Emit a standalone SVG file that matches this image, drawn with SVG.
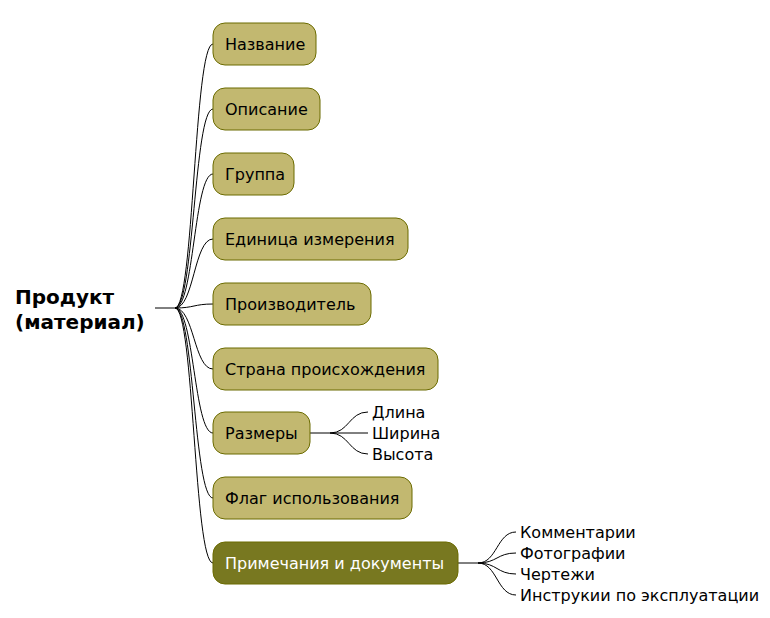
<svg xmlns="http://www.w3.org/2000/svg" width="770" height="618" viewBox="0 0 770 618">
<style>
.n{fill:#c2b870;stroke:#6b6b00;stroke-width:1}
.d{fill:#787820;stroke:#6b6b00;stroke-width:1}
text{font-family:"DejaVu Sans",sans-serif;font-size:16px;fill:#000}
.w{fill:#fff}
.r{font-size:20px;font-weight:bold}
.l{font-size:16px}
#c path{fill:none;stroke:#000;stroke-width:1}
</style>
<rect width="770" height="618" fill="#fff"/>
<g id="c">
<path d="M155 308H175"/>
<path d="M175 308C194 308 194 44 213 44"/>
<path d="M175 308C194 308 194 109 213 109"/>
<path d="M175 308C194 308 194 174 213 174"/>
<path d="M175 308C194 308 194 239 213 239"/>
<path d="M175 308C194 308 194 304 213 304"/>
<path d="M175 308C194 308 194 369 213 369"/>
<path d="M175 308C194 308 194 433 213 433"/>
<path d="M175 308C194 308 194 498 213 498"/>
<path d="M175 308C194 308 194 563 213 563"/>
<path d="M310 433H330"/>
<path d="M330 433C349 433 349 412 368 412"/>
<path d="M330 433H368"/>
<path d="M330 433C349 433 349 454 368 454"/>
<path d="M458 563H478"/>
<path d="M478 563C497 563 497 532 516 532"/>
<path d="M478 563C497 563 497 553 516 553"/>
<path d="M478 563C497 563 497 574 516 574"/>
<path d="M478 563C497 563 497 595 516 595"/>
</g>
<g id="root"><text class="r" x="15" y="304">Продукт</text><text class="r" x="15" y="329">(материал)</text></g>
<g id="n1"><rect class="n" x="213" y="23" width="103" height="42" rx="12"/><text x="225" y="50">Название</text></g>
<g id="n2"><rect class="n" x="213" y="88" width="107" height="42" rx="12"/><text x="225" y="115">Описание</text></g>
<g id="n3"><rect class="n" x="213" y="153" width="81" height="42" rx="12"/><text x="225" y="180">Группа</text></g>
<g id="n4"><rect class="n" x="213" y="218" width="195" height="42" rx="12"/><text x="225" y="245">Единица измерения</text></g>
<g id="n5"><rect class="n" x="213" y="283" width="158" height="42" rx="12"/><text x="225" y="310">Производитель</text></g>
<g id="n6"><rect class="n" x="213" y="348" width="225" height="42" rx="12"/><text x="225" y="375">Страна происхождения</text></g>
<g id="n7"><rect class="n" x="213" y="412" width="97" height="42" rx="12"/><text x="225" y="439">Размеры</text></g>
<g id="n8"><rect class="n" x="213" y="477" width="199" height="42" rx="12"/><text x="225" y="504">Флаг использования</text></g>
<g id="n9"><rect class="d" x="213" y="542" width="245" height="42" rx="12"/><text class="w" x="225" y="569">Примечания и документы</text></g>
<g id="l1"><text class="l" x="372" y="418">Длина</text></g>
<g id="l2"><text class="l" x="372" y="439">Ширина</text></g>
<g id="l3"><text class="l" x="372" y="460">Высота</text></g>
<g id="l4"><text class="l" x="520" y="538">Комментарии</text></g>
<g id="l5"><text class="l" x="520" y="559">Фотографии</text></g>
<g id="l6"><text class="l" x="520" y="580">Чертежи</text></g>
<g id="l7"><text class="l" x="520" y="601">Инструкии по эксплуатации</text></g>
</svg>
